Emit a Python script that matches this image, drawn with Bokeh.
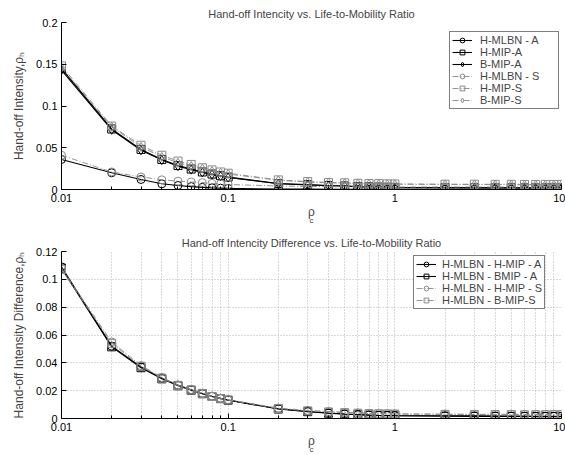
from bokeh.plotting import figure
from bokeh.models import Legend, LegendItem, FixedTicker, Title
from bokeh.layouts import column
from bokeh.embed import file_html
from bokeh.resources import INLINE

# ---------------- data ----------------
rho_c = [0.01, 0.02, 0.03, 0.04, 0.05, 0.06, 0.07, 0.08, 0.09, 0.1,
         0.2, 0.3, 0.4, 0.5, 0.6, 0.7, 0.8, 0.9, 1.0,
         2, 3, 4, 5, 6, 7, 8, 9, 10]

h_mlbn_a = [0.036, 0.020, 0.012, 0.0068, 0.0048, 0.0035, 0.0026, 0.0020, 0.0016, 0.0013,
            0.0006, 0.0004, 0.0003, 0.0003, 0.0002, 0.0002, 0.0002, 0.0002, 0.0002,
            0.0001, 0.0001, 0.0001, 0.0001, 0.0001, 0.0001, 0.0001, 0.0001, 0.0001]
h_mip_a = [0.145, 0.0725, 0.048, 0.036, 0.0287, 0.0245, 0.021, 0.0185, 0.0165, 0.0148,
           0.0072, 0.0058, 0.0048, 0.0042, 0.0036, 0.0032, 0.0029, 0.0027, 0.0025,
           0.0023, 0.0022, 0.0021, 0.0021, 0.0020, 0.0020, 0.0020, 0.0020, 0.0020]
b_mip_a = [0.143, 0.0715, 0.047, 0.0352, 0.028, 0.0238, 0.0204, 0.018, 0.016, 0.0143,
           0.0068, 0.0054, 0.0045, 0.0039, 0.0034, 0.0030, 0.0027, 0.0025, 0.0023,
           0.0021, 0.0020, 0.0019, 0.0019, 0.0018, 0.0018, 0.0018, 0.0018, 0.0018]
h_mlbn_s = [0.041, 0.021, 0.015, 0.0116, 0.010, 0.009, 0.0082, 0.0074, 0.0067, 0.0060,
            0.0042, 0.0037, 0.0034, 0.0033, 0.0032, 0.0031, 0.0031, 0.0030, 0.0030,
            0.0030, 0.0030, 0.0030, 0.0030, 0.0030, 0.0030, 0.0030, 0.0030, 0.0030]
h_mip_s = [0.148, 0.076, 0.053, 0.041, 0.034, 0.030, 0.026, 0.0235, 0.021, 0.0195,
           0.0115, 0.0095, 0.0085, 0.0080, 0.0075, 0.0072, 0.0070, 0.0068, 0.0067,
           0.0064, 0.0063, 0.0062, 0.0062, 0.0061, 0.0061, 0.0061, 0.0061, 0.0061]
b_mip_s = [0.146, 0.075, 0.051, 0.039, 0.032, 0.028, 0.025, 0.022, 0.020, 0.0185,
           0.0110, 0.0090, 0.0080, 0.0075, 0.0070, 0.0067, 0.0065, 0.0063, 0.0062,
           0.0060, 0.0059, 0.0058, 0.0058, 0.0057, 0.0057, 0.0057, 0.0057, 0.0057]

diff_hmip_a = [0.109, 0.052, 0.037, 0.029, 0.024, 0.0206, 0.018, 0.016, 0.0145, 0.0133,
               0.0070, 0.0050, 0.0039, 0.0032, 0.0028, 0.0025, 0.0023, 0.0022, 0.0021,
               0.0020, 0.0019, 0.0018, 0.0017, 0.0017, 0.0016, 0.0016, 0.0016, 0.0016]
diff_bmip_a = [0.108, 0.0515, 0.0365, 0.0285, 0.0235, 0.0203, 0.0178, 0.0158, 0.0143, 0.0131,
               0.0068, 0.0049, 0.0038, 0.0031, 0.0027, 0.0024, 0.0022, 0.0021, 0.0020,
               0.0016, 0.0015, 0.0015, 0.0014, 0.0014, 0.0014, 0.0014, 0.0014, 0.0014]
diff_hmip_s = [0.108, 0.055, 0.038, 0.0295, 0.024, 0.0208, 0.0182, 0.016, 0.0145, 0.0135,
               0.0075, 0.0058, 0.0050, 0.0045, 0.0040, 0.0037, 0.0035, 0.0034, 0.0033,
               0.0031, 0.0030, 0.0030, 0.0030, 0.0030, 0.0030, 0.0030, 0.0030, 0.0030]
diff_bmip_s = [0.107, 0.054, 0.0375, 0.029, 0.0238, 0.0205, 0.018, 0.0158, 0.0143, 0.0133,
               0.0072, 0.0055, 0.0047, 0.0042, 0.0038, 0.0035, 0.0034, 0.0033, 0.0032,
               0.0030, 0.0029, 0.0028, 0.0028, 0.0027, 0.0027, 0.0027, 0.0027, 0.0027]

x_ticks = [0.01, 0.1, 1, 10]
x_tick_labels = ["0.01", "0.1", "1", "10"]
x_minor = [0.02, 0.03, 0.04, 0.05, 0.06, 0.07, 0.08, 0.09,
           0.2, 0.3, 0.4, 0.5, 0.6, 0.7, 0.8, 0.9,
           2, 3, 4, 5, 6, 7, 8, 9]

top_y_ticks = [0, 0.05, 0.1, 0.15, 0.2]
top_y_labels = ["0", "0.05", "0.1", "0.15", "0.2"]
bot_y_ticks = [0, 0.02, 0.04, 0.06, 0.08, 0.1, 0.12]
bot_y_labels = ["0", "0.02", "0.04", "0.06", "0.08", "0.1", "0.12"]

top_names = ["H-MLBN - A", "H-MIP-A", "B-MIP-A", "H-MLBN - S", "H-MIP-S", "B-MIP-S"]
bot_names = ["H-MLBN - H-MIP - A", "H-MLBN - BMIP - A", "H-MLBN - H-MIP - S", "H-MLBN - B-MIP-S"]

FONT = "Liberation Sans"
GRAY = "#8a8a8a"


def make_fig(title, ylabel, y_end, yticks, ylabels, height, top, bottom, grid):
    p = figure(width=565, height=height, x_axis_type="log",
               x_range=(0.01, 10), y_range=(0, y_end),
               output_backend="svg", toolbar_location=None,
               min_border_left=61, min_border_right=4,
               min_border_top=top, min_border_bottom=bottom)
    p.outline_line_color = None
    p.title.text = title
    p.title.align = "center"
    p.title.text_font = FONT
    p.title.text_font_size = "11px"
    p.title.text_font_style = "normal"
    p.title.standoff = 6

    xa = p.xaxis[0]
    xa.ticker = FixedTicker(ticks=x_ticks, minor_ticks=x_minor)
    xa.major_label_overrides = {t: l for t, l in zip(x_ticks, x_tick_labels)}
    ya = p.yaxis[0]
    ya.ticker = FixedTicker(ticks=yticks)
    ya.major_label_overrides = {t: l for t, l in zip(yticks, ylabels)}
    ya.axis_label = ylabel
    ya.axis_label_text_font = FONT
    ya.axis_label_text_font_size = "12px"
    ya.axis_label_text_font_style = "normal"
    ya.axis_label_standoff = 7
    for ax in (xa, ya):
        ax.axis_line_color = "black"
        ax.major_tick_line_color = "black"
        ax.major_tick_in = 5
        ax.major_tick_out = 0
        ax.minor_tick_line_color = "black"
        ax.minor_tick_in = 3
        ax.minor_tick_out = 0
        ax.major_label_text_font = FONT
        ax.major_label_text_font_size = "11px"
        ax.major_label_text_color = "black"
        ax.major_label_standoff = 4
    ya.minor_tick_line_color = None

    # x-axis label: rho with a subscript c, as two small titles under the axis
    p.add_layout(Title(text="ρ", align="center", offset=-4, standoff=-3,
                       text_font=FONT, text_font_size="12px", text_font_style="normal"),
                 "below")
    p.add_layout(Title(text="c", align="center", offset=1, standoff=-7,
                       text_font=FONT, text_font_size="8px", text_font_style="normal"),
                 "below")

    if grid:
        p.xgrid.grid_line_color = "#b4b4b4"
        p.xgrid.grid_line_dash = "1 2"
        p.xgrid.minor_grid_line_color = "#b4b4b4"
        p.xgrid.minor_grid_line_dash = "1 2"
        p.ygrid.grid_line_color = "#b4b4b4"
        p.ygrid.grid_line_dash = "1 2"
    else:
        p.xgrid.grid_line_color = None
        p.ygrid.grid_line_color = None
    return p


def add_series(p, ys, marker, solid):
    color = "black" if solid else GRAY
    dash = "solid" if solid else "6 2 1 2"
    lw = 1.1 if solid else 0.9
    r1 = p.line(rho_c, ys, line_color=color, line_width=lw, line_dash=dash)
    r2 = p.scatter(rho_c, ys, marker=marker, size=8 if marker != "diamond" else 9,
                   line_color=color, fill_color=None, line_width=1)
    return [r1, r2]


# ---------------- top ----------------
p1 = make_fig("Hand-off Intencity vs. Life-to-Mobility Ratio", "Hand-off Intensity,ρₕ",
              0.2, top_y_ticks, top_y_labels, 227, 22, 38, False)
top_series = [(h_mlbn_a, "circle", True), (h_mip_a, "square", True), (b_mip_a, "diamond", True),
              (h_mlbn_s, "circle", False), (h_mip_s, "square", False), (b_mip_s, "diamond", False)]
items1 = []
for (ys, m, s), name in zip(top_series, top_names):
    items1.append(LegendItem(label=name, renderers=add_series(p1, ys, m, s)))
leg1 = Legend(items=items1, location=(388, 80), label_text_font=FONT,
              label_text_font_size="11px", label_height=12, glyph_height=12,
              glyph_width=20, spacing=0, padding=2, label_standoff=8, label_width=76,
              border_line_color="black", border_line_width=1,
              background_fill_color="white", background_fill_alpha=1, margin=0)
p1.add_layout(leg1)

# ---------------- bottom ----------------
p2 = make_fig("Hand-off Intencity Difference vs. Life-to-Mobility Ratio",
              "Hand-off Intensity Difference,ρₕ",
              0.12, bot_y_ticks, bot_y_labels, 228, 24, 37, True)
bot_series = [(diff_hmip_a, "circle", True), (diff_bmip_a, "square", True),
              (diff_hmip_s, "circle", False), (diff_bmip_s, "square", False)]
items2 = []
for (ys, m, s), name in zip(bot_series, bot_names):
    items2.append(LegendItem(label=name, renderers=add_series(p2, ys, m, s)))
leg2 = Legend(items=items2, location=(352, 109), label_text_font=FONT,
              label_text_font_size="11px", label_height=12, glyph_height=12,
              glyph_width=20, spacing=0, padding=2, label_standoff=6,
              border_line_color="black", border_line_width=1,
              background_fill_color="white", background_fill_alpha=1, margin=0)
p2.add_layout(leg2)

layout = column(p1, p2, spacing=0)
open("out.html", "w").write(file_html(layout, INLINE))
